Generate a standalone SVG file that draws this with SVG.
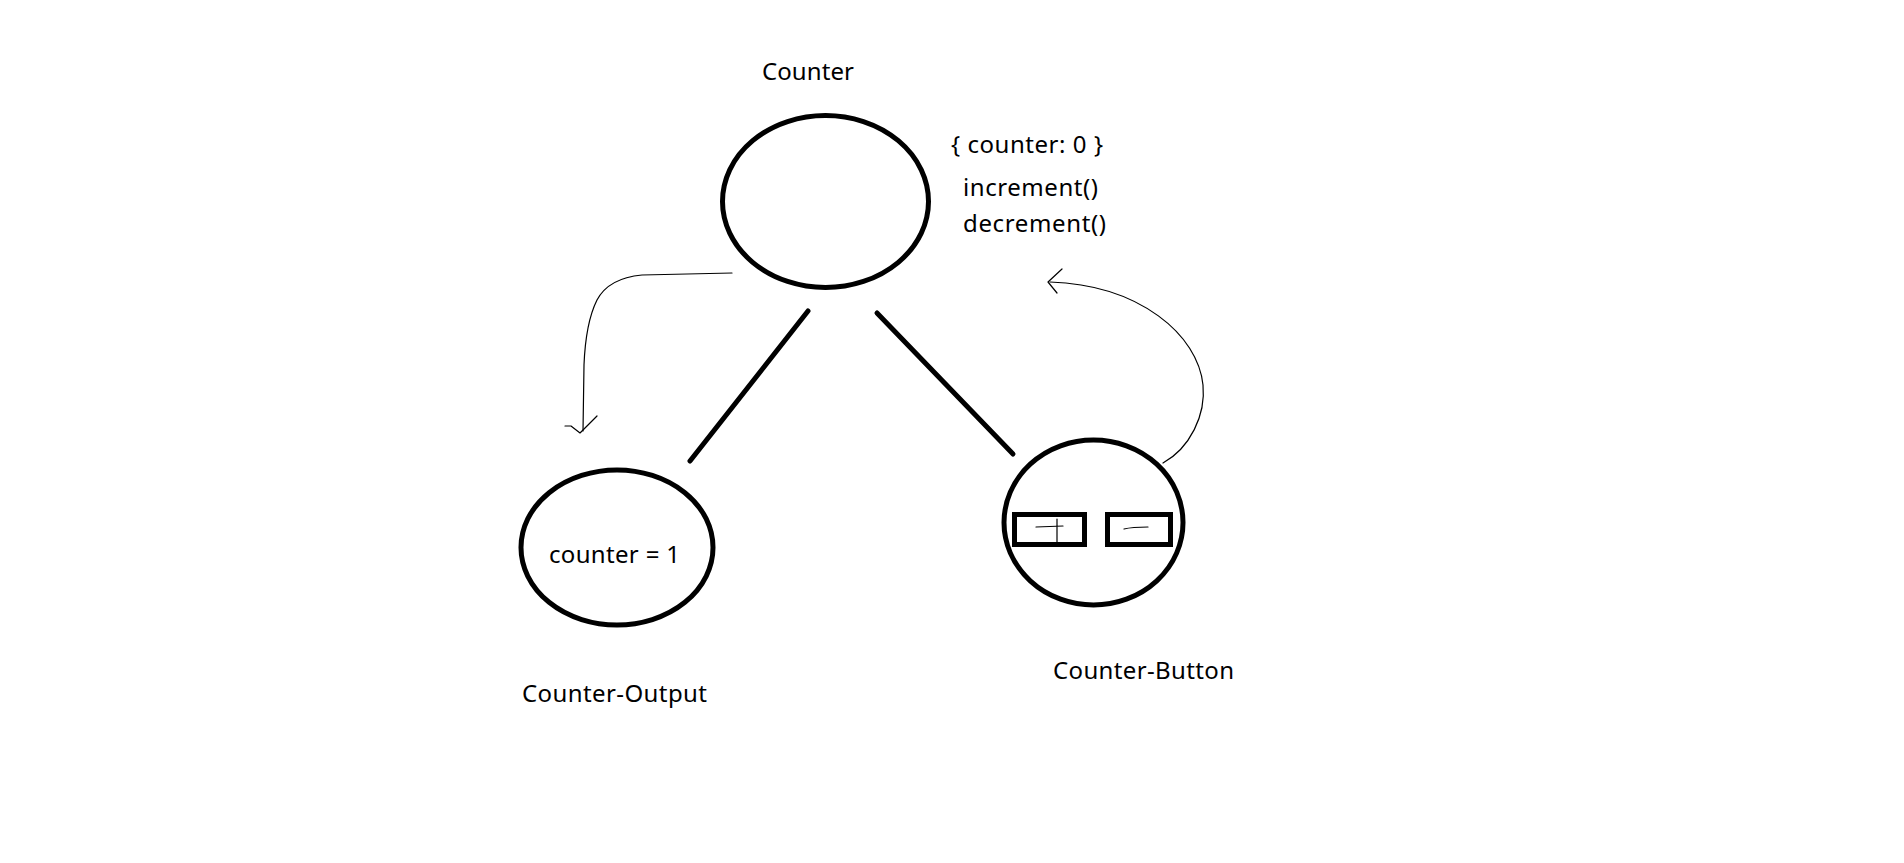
<svg xmlns="http://www.w3.org/2000/svg" width="1904" height="863" viewBox="0 0 1904 863">
<style>
.t{font-family:"Noto Sans","Open Sans","Liberation Sans",sans-serif;font-size:24px;fill:#000}
.n{fill:none;stroke:#000;stroke-width:5}
.thin{fill:none;stroke:#000;stroke-width:1.2;stroke-linejoin:round;stroke-linecap:round}
.edge{stroke:#000;stroke-width:5;stroke-linecap:round}
</style>
<rect width="1904" height="863" fill="#fff"/>
<g id="connectors">
<line class="edge" x1="808" y1="311" x2="690" y2="461"/>
<line class="edge" x1="877" y1="313" x2="1013" y2="454"/>
<path class="thin" d="M732,273 L642,275 C620,277 605,285 597,300 C588,318 585,340 584,365 L583,431"/>
<path class="thin" d="M565,426 L571,426 L580,433 L597,416"/>
<path class="thin" d="M1163,463 C1190,448 1206,415 1203,385 C1198,335 1140,285 1050,282"/>
<path class="thin" d="M1062,269 L1048,282 L1057,293"/>
</g>
<g id="counter">
<ellipse class="n" cx="825.5" cy="201.5" rx="103" ry="86"/>
<text class="t" x="762" y="80" textLength="92">Counter</text>
<text class="t" x="951" y="153" textLength="152">{ counter: 0 }</text>
<text class="t" x="963" y="196" textLength="135">increment()</text>
<text class="t" x="963" y="232" textLength="143">decrement()</text>
</g>
<g id="counter-output">
<ellipse class="n" cx="617" cy="547.5" rx="96" ry="77.5"/>
<text class="t" x="549" y="563" textLength="131">counter = 1</text>
<text class="t" x="522" y="702" textLength="185">Counter-Output</text>
</g>
<g id="counter-button">
<ellipse class="n" cx="1093.5" cy="522.5" rx="89.5" ry="82.5"/>
<rect class="n" x="1014.5" y="514.5" width="70" height="30"/>
<rect class="n" x="1107.5" y="514.5" width="63" height="30"/>
<path class="thin" d="M1036,527 L1063,526 M1057,519 L1057,542"/>
<path class="thin" d="M1124,529 Q1132,527 1148,527"/>
<text class="t" x="1053" y="679" textLength="181">Counter-Button</text>
</g>
</svg>
